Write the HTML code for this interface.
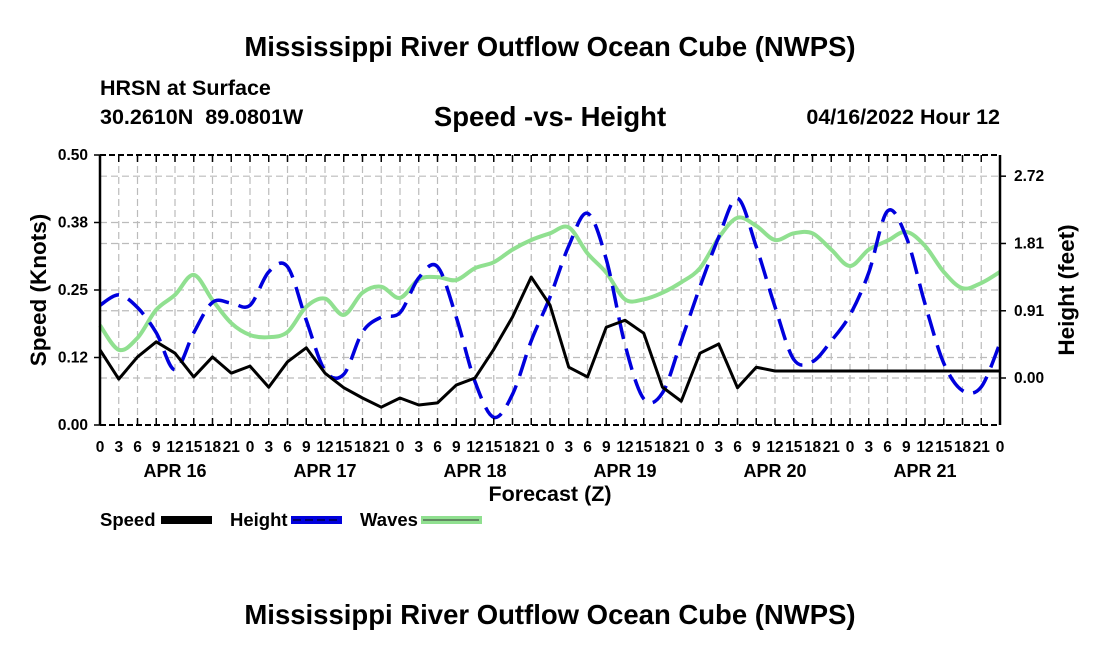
<!DOCTYPE html>
<html><head><meta charset="utf-8">
<style>
body{margin:0;background:#fff;}
svg{display:block;font-family:"Liberation Sans",Arial,sans-serif;font-weight:bold;}
</style></head>
<body>
<svg id="chart" width="1100" height="650" viewBox="0 0 1100 650" xmlns="http://www.w3.org/2000/svg">
<rect width="1100" height="650" fill="#fff"/>
<text x="550" y="56" font-size="27.5" text-anchor="middle">Mississippi River Outflow Ocean Cube (NWPS)</text>
<text x="100" y="95" font-size="21.5">HRSN at Surface</text>
<text x="100" y="124" font-size="21.5">30.2610N&#160;&#160;89.0801W</text>
<text x="550" y="126" font-size="27.5" text-anchor="middle">Speed -vs- Height</text>
<text x="1000" y="124" font-size="21.5" text-anchor="end">04/16/2022 Hour 12</text>
<g id="grid"></g>
<g id="marks"></g>
<g id="axes"></g>
<text transform="translate(46,290) rotate(-90)" font-size="22.5" text-anchor="middle">Speed (Knots)</text>
<text transform="translate(1074,290) rotate(-90)" font-size="22.5" text-anchor="middle">Height (feet)</text>
<text x="550" y="501" font-size="21.5" text-anchor="middle">Forecast (Z)</text>
<g>
 <g>
  <text x="100" y="526" font-size="18.5">Speed</text>
  <rect x="161" y="516" width="51" height="8" fill="#000"/>
 </g>
 <g>
  <text x="230" y="526" font-size="18.5">Height</text>
  <rect x="291" y="516" width="51" height="8" fill="#0000dd"/>
  <line x1="293" y1="520" x2="340" y2="520" stroke="#000" stroke-width="1" stroke-dasharray="8,4"/>
 </g>
 <g>
  <text x="360" y="526" font-size="18.5">Waves</text>
  <rect x="421" y="516" width="61" height="8" fill="#90e090"/>
  <line x1="423" y1="520" x2="479" y2="520" stroke="#333" stroke-width="1"/>
 </g>
</g>
<text x="550" y="624" font-size="27.5" text-anchor="middle">Mississippi River Outflow Ocean Cube (NWPS)</text>
</svg>
<script>
const hours = [];
for (let h = 0; h <= 144; h += 3) hours.push(h);
const speedKnots = [0.139,0.085,0.126,0.154,0.133,0.089,0.126,0.096,0.109,0.070,0.117,0.143,0.096,0.069,0.050,0.033,0.050,0.037,
 0.041,0.074,0.087,0.140,0.200,0.274,0.222,0.107,0.089,0.181,0.194,0.170,0.070,0.044,0.133,0.150,0.069,0.107,0.100,
 0.100,0.100,0.100,0.100,0.100,0.100,0.100,0.100,0.100,0.100,0.100,0.100];
const heightFeet = [0.98,1.12,0.95,0.61,0.11,0.61,1.02,1.01,0.98,1.43,1.50,0.78,0.10,0.05,0.62,0.82,0.88,1.35,
 1.50,0.82,-0.05,-0.53,-0.22,0.50,1.09,1.78,2.22,1.60,0.45,-0.28,-0.20,0.50,1.23,1.90,2.42,1.77,0.96,
 0.25,0.22,0.50,0.85,1.42,2.25,1.90,1.00,0.20,-0.17,-0.12,0.47];
const wavesFeet = [0.71,0.38,0.54,0.92,1.12,1.39,1.05,0.74,0.58,0.55,0.62,0.96,1.07,0.85,1.15,1.23,1.08,1.33,
 1.36,1.32,1.48,1.56,1.73,1.86,1.95,2.03,1.68,1.42,1.06,1.06,1.15,1.29,1.48,1.89,2.16,2.05,1.86,
 1.95,1.95,1.73,1.51,1.73,1.85,1.97,1.78,1.43,1.21,1.28,1.43];
const leftTicks = ["0.00","0.12","0.25","0.38","0.50"];
const leftTickVals = [0,0.125,0.25,0.375,0.5];
const rightTicks = ["0.00","0.91","1.81","2.72"];
const rightTickVals = [0,0.906,1.813,2.72];
const hourLabels = ["0","3","6","9","12","15","18","21"];
const dayLabels = ["APR 16","APR 17","APR 18","APR 19","APR 20","APR 21"];

const X0=100,X1=1000,YT=155,YB=425;
const xScale = h => X0 + (X1-X0)*h/144;
const ySpeed = v => YB - (YB-YT)*v/0.5;
const yHeight = f => 378 - f*74.2;

const NS="http://www.w3.org/2000/svg";
function mk(tag, attrs, parent){const e=document.createElementNS(NS,tag);for(const k in attrs)e.setAttribute(k,attrs[k]);parent.appendChild(e);return e;}
const gridG=document.getElementById('grid'), marksG=document.getElementById('marks'), axesG=document.getElementById('axes');

for (let h=3; h<144; h+=3){
  const l=mk('line',{x1:xScale(h),x2:xScale(h),y1:YT,y2:YB,stroke:'#bbb','stroke-width':1.2,'stroke-dasharray':'7,4'},gridG);
  
  
}
const gys=[...leftTickVals.slice(1,4).map(ySpeed), ...rightTickVals.map(yHeight)];
gys.forEach(gy=>{
  const l=mk('line',{x1:X0,x2:X1,y1:gy,y2:gy,stroke:'#bbb','stroke-width':1.2,'stroke-dasharray':'7,4'},gridG);
  
  
});

function smooth(pts){
  let d=`M${pts[0][0]},${pts[0][1]}`;
  for(let i=0;i<pts.length-1;i++){
    const p0=pts[Math.max(0,i-1)],p1=pts[i],p2=pts[i+1],p3=pts[Math.min(pts.length-1,i+2)];
    const c1=[p1[0]+(p2[0]-p0[0])/6,p1[1]+(p2[1]-p0[1])/6];
    const c2=[p2[0]-(p3[0]-p1[0])/6,p2[1]-(p3[1]-p1[1])/6];
    d+=` C${c1[0]},${c1[1]} ${c2[0]},${c2[1]} ${p2[0]},${p2[1]}`;
  }
  return d;
}
const wavePath=mk('path',{d:smooth(hours.map((h,i)=>[xScale(h),yHeight(wavesFeet[i])])),fill:'none',stroke:'#90e090','stroke-width':4},marksG);


const heightPath=mk('path',{d:smooth(hours.map((h,i)=>[xScale(h),yHeight(heightFeet[i])])),fill:'none',stroke:'#0000dd','stroke-width':3.5,'stroke-dasharray':'22,10'},marksG);


const speedPath=mk('polyline',{points:hours.map((h,i)=>xScale(h)+','+ySpeed(speedKnots[i])).join(' '),fill:'none',stroke:'#000','stroke-width':3,'stroke-linejoin':'round'},marksG);



const topBorder=mk('line',{x1:X0,x2:X1,y1:YT,y2:YT,stroke:'#000','stroke-width':2,'stroke-dasharray':'6,3'},axesG);


const bottomAxis=mk('line',{x1:X0,x2:X1,y1:YB,y2:YB,stroke:'#000','stroke-width':2,'stroke-dasharray':'6,3'},axesG);


const leftAxis=mk('line',{x1:X0,x2:X0,y1:YT,y2:YB,stroke:'#000','stroke-width':2.5},axesG);


const rightAxis=mk('line',{x1:X1,x2:X1,y1:YT,y2:YB,stroke:'#000','stroke-width':2.5},axesG);



for(let h=0;h<=144;h+=3){
  mk('line',{x1:xScale(h),x2:xScale(h),y1:YB,y2:YB-7,stroke:'#000','stroke-width':1.5},axesG);
  mk('line',{x1:xScale(h),x2:xScale(h),y1:YT,y2:YT+7,stroke:'#000','stroke-width':1.5},axesG);
  const t=mk('text',{x:xScale(h),y:452,'font-size':15.5,'text-anchor':'middle'},axesG);
  t.textContent=hourLabels[(h/3)%8];
  
  
}
dayLabels.forEach((d,i)=>{
  const t=mk('text',{x:xScale(i*24+12),y:477,'font-size':18,'text-anchor':'middle'},axesG);
  t.textContent=d;
  
  
});
leftTickVals.forEach((v,i)=>{
  mk('line',{x1:X0-6,x2:X0,y1:ySpeed(v),y2:ySpeed(v),stroke:'#000','stroke-width':1.5},axesG);
  const t=mk('text',{x:X0-12,y:ySpeed(v)+5,'font-size':15.5,'text-anchor':'end'},axesG);
  t.textContent=leftTicks[i];
  
  
});
rightTickVals.forEach((v,i)=>{
  mk('line',{x1:X1,x2:X1+6,y1:yHeight(v),y2:yHeight(v),stroke:'#000','stroke-width':1.5},axesG);
  const t=mk('text',{x:X1+14,y:yHeight(v)+5,'font-size':15.5,'text-anchor':'start'},axesG);
  t.textContent=rightTicks[i];
  
  
});
</script>
</body></html>
